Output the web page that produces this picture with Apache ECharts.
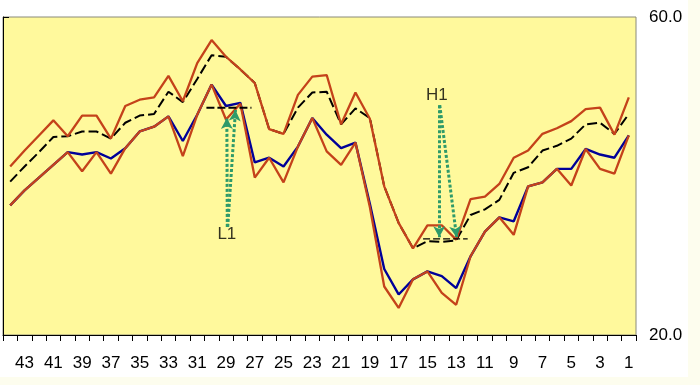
<!DOCTYPE html>
<html>
<head>
<meta charset="utf-8">
<script src="https://cdn.jsdelivr.net/npm/echarts@6/dist/echarts.min.js"></script>
<style>
html,body{margin:0;padding:0;background:#FDFDEE;}
#chart{width:688px;height:377px;background:#ffffff;}
</style>
</head>
<body>
<div id="chart"></div>
<script>
// Categories (x-axis, descending 44..1)
const categories = ['44','43','42','41','40','39','38','37','36','35','34','33','32','31','30','29','28','27','26','25','24','23','22','21','20','19','18','17','16','15','14','13','12','11','10','9','8','7','6','5','4','3','2','1'];

// Upper red band
const upperBand = [41.2,43.2,45.1,47.0,45.0,47.6,47.6,44.7,48.8,49.6,49.9,52.6,49.4,54.2,57.1,55.0,53.4,51.7,45.9,45.3,50.2,52.5,52.7,46.5,50.5,47.2,38.7,34.1,30.9,33.8,33.8,32.0,37.1,37.4,39.0,42.3,43.2,45.3,46.0,46.9,48.4,48.6,45.2,49.9];

// Middle black dashed line
const middleLine = [39.3,41.2,43.0,44.9,45.0,45.6,45.6,44.7,46.7,47.6,47.8,50.6,49.3,52.2,55.2,55.0,53.4,51.7,45.9,45.3,48.6,50.5,50.6,46.5,48.5,47.3,38.7,34.1,30.9,31.8,31.7,31.9,35.1,35.8,37.0,40.4,41.1,43.2,43.8,44.7,46.5,46.7,45.3,47.8];

// Lower red band
const lowerBand = [36.3,38.2,39.8,41.4,43.0,40.6,43.0,40.3,43.5,45.6,46.2,47.5,42.5,47.7,51.5,47.1,49.1,39.8,42.3,39.2,43.7,47.3,43.1,41.4,44.2,36.1,26.1,23.4,27.0,28.0,25.3,23.8,29.9,33.0,34.8,32.6,38.7,39.2,40.9,38.8,43.4,40.9,40.3,45.1];

// Blue line
const blueLine = [36.3,38.2,39.8,41.4,43.0,42.7,43.0,42.2,43.5,45.6,46.2,47.5,44.4,47.7,51.5,48.8,49.2,41.7,42.3,41.2,43.7,47.3,45.2,43.5,44.2,36.5,28.3,25.1,27.0,28.0,27.4,25.9,29.9,33.0,34.8,34.3,38.7,39.2,40.9,40.9,43.4,42.7,42.3,45.1];

// Y-axis tick labels
const yTicks = [20, 60];

// Annotations (in axis units: x = category position, y = value)
const l1Level = [[14.14,48.6],[17.27,48.6]];
const h1Level = [[29.2,32.1],[32.3,32.1]];
const l1Arrows = [[[15.59,33.6],[15.56,47.3]],[[15.62,33.6],[16.16,48.3]]];
const h1Arrows = [[[30.32,48.9],[30.32,32.3]],[[30.36,48.9],[31.53,32.3]]];
const labelsText = [{name:'L1', value:[15.56,32.7]},{name:'H1', value:[30.16,50.2]}];

const FONT = 'Liberation Sans, Arial, sans-serif';
const RED = '#C4421A';
const GREEN = '#2E9A6A';

const chart = echarts.init(document.getElementById('chart'), null, {renderer:'canvas'});

function arrowMarkLine(segs){
  return {
    silent: true,
    symbol: ['none','arrow'],
    symbolSize: [9, 11],
    label: {show:false},
    lineStyle: {color: GREEN, type: [3,2], width: 3},
    data: segs.map(s => [{coord: s[0]}, {coord: s[1]}])
  };
}

chart.setOption({
  animation: false,
  backgroundColor: '#ffffff',
  grid: {
    left: 3, right: 52, top: 17, bottom: 42,
    show: true, backgroundColor: '#FFF99C', borderColor: '#8a8a7a', borderWidth: 1
  },
  xAxis: [{
    type: 'category',
    data: categories,
    boundaryGap: true,
    axisLine: {show: true, lineStyle: {color: '#000', width: 1}},
    axisTick: {show: true, interval: 0, length: 6, inside: false, lineStyle: {color: '#000'}},
    axisLabel: {
      interval: (idx) => idx % 2 === 1,
      color: '#000', fontSize: 17, fontFamily: FONT, margin: 20
    },
    splitLine: {show: false}
  }, {
    type: 'value', min: 0, max: 44, show: false, position: 'top'
  }],
  yAxis: {
    type: 'value', min: 20, max: 60, position: 'right',
    axisLine: {show: true, lineStyle: {color: '#000', width: 1}},
    axisTick: {show: true, length: 6, customValues: yTicks, lineStyle: {color: '#000'}},
    axisLabel: {
      customValues: yTicks,
      formatter: v => v.toFixed(1),
      color: '#000', fontSize: 17, fontFamily: FONT, margin: 13
    },
    splitLine: {show: false}
  },
  series: [
    {type:'line', data: blueLine, symbol:'none', lineStyle:{color:'#000099', width:2.4}, z: 2},
    {type:'line', data: middleLine, symbol:'none', lineStyle:{color:'#000000', width:2, type:[10,4]}, z: 3},
    {type:'line', data: upperBand, symbol:'none', lineStyle:{color: RED, width:2.3}, z: 4},
    {type:'line', data: lowerBand, symbol:'none', lineStyle:{color: RED, width:2.3}, z: 4},
    {type:'line', xAxisIndex:1, data: l1Level, symbol:'none', lineStyle:{color:'#000', width:2, type:[8,3]}, z:5},
    {type:'line', xAxisIndex:1, data: h1Level, symbol:'none', lineStyle:{color:'#000', width:1.2, type:[7,3]}, z:5},
    {type:'line', xAxisIndex:1, data: [], symbol:'none', markLine: arrowMarkLine(l1Arrows), z:6},
    {type:'line', xAxisIndex:1, data: [], symbol:'none', markLine: arrowMarkLine(h1Arrows), z:6},
    {type:'scatter', xAxisIndex:1, data: labelsText, symbolSize: 0,
     label:{show:true, position:'inside', formatter:'{b}', color:'#000', fontSize:17, fontFamily: FONT}, z:7}
  ]
});
</script>
</body>
</html>
